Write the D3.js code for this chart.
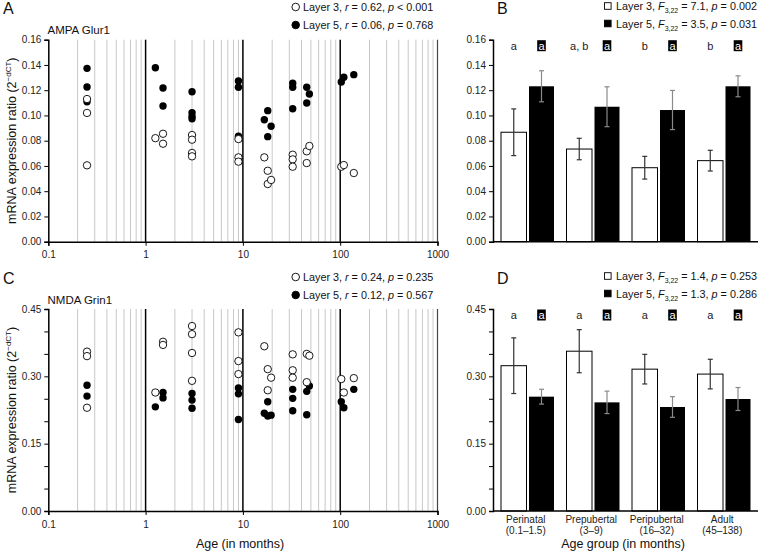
<!DOCTYPE html>
<html><head><meta charset="utf-8">
<script src="https://cdn.jsdelivr.net/npm/d3@7"></script>
<style>
body{margin:0;background:#fff;}
svg{font-family:"Liberation Sans",Arial,sans-serif;}
</style></head>
<body>
<svg id="c" width="760" height="558"></svg>
<script>
// ---------- DATA ----------
const ampaL3Age = [0.25,0.25,0.25,1.26,1.51,1.51,3,3,3,3,9,9,9,16.6,18,18,19.5,32.5,32.5,32.5,45.3,45.3,48.2,102.6,109,138];
const ampaL3Val = [0.113,0.102,0.0605,0.082,0.0855,0.0776,0.0845,0.0808,0.0703,0.0676,0.0813,0.0668,0.0634,0.0668,0.0562,0.0457,0.0489,0.0689,0.0652,0.0594,0.0716,0.0623,0.0758,0.0594,0.0607,0.0544];
const ampaL5Age = [0.25,0.25,0.25,1.26,1.51,1.51,3,3,3,3,9,9,9,16.6,18,18,19.5,32.5,32.5,32.5,45.3,45.3,48.2,102.6,109,138];
const ampaL5Val = [0.1373,0.1225,0.1109,0.1378,0.1217,0.1075,0.1188,0.1022,0.0993,0.0974,0.1273,0.1223,0.0835,0.0966,0.1038,0.0832,0.0914,0.1255,0.1223,0.1053,0.1223,0.1099,0.117,0.1265,0.1302,0.1323];
const nmdaL3Age = [0.25,0.25,0.25,1.26,1.51,1.51,3,3,3,3,9,9,9,16.6,18,18,19.5,32.5,32.5,32.5,45.3,45.3,48.2,102.6,109,138];
const nmdaL3Val = [0.355,0.345,0.230,0.264,0.377,0.370,0.412,0.394,0.352,0.290,0.398,0.334,0.305,0.367,0.316,0.269,0.297,0.349,0.3135,0.297,0.350,0.287,0.346,0.294,0.264,0.296];
const nmdaL5Age = [0.25,0.25,1.26,1.51,1.51,3,3,3,9,9,9,16.6,18,18,19.5,32.5,32.5,32.5,45.3,45.3,48.2,102.6,109,138];
const nmdaL5Val = [0.280,0.256,0.232,0.264,0.252,0.262,0.247,0.229,0.274,0.261,0.204,0.2176,0.2435,0.2116,0.2135,0.271,0.251,0.2234,0.2666,0.2145,0.2785,0.2435,0.230,0.271];

const groups = ["Perinatal","Prepubertal","Peripubertal","Adult"];
const groupRanges = ["(0.1–1.5)","(3–9)","(16–32)","(45–138)"];
const ampaBarL3 = [0.0867,0.0734,0.0586,0.0642];
const ampaErrL3 = [0.0185,0.0085,0.009,0.0082];
const ampaBarL5 = [0.1231,0.1069,0.1043,0.1231];
const ampaErrL5 = [0.0123,0.0158,0.0155,0.0083];
const nmdaBarL3 = [0.3237,0.356,0.316,0.305];
const nmdaErrL3 = [0.062,0.048,0.033,0.033];
const nmdaBarL5 = [0.2547,0.242,0.2317,0.2495];
const nmdaErrL5 = [0.0165,0.025,0.023,0.0256];
const ampaLetL3 = ["a","a, b","b","b"];
const ampaLetL5 = ["a","a","a","a"];
const nmdaLetL3 = ["a","a","a","a"];
const nmdaLetL5 = ["a","a","a","a"];

const ampaTicks = [0,0.02,0.04,0.06,0.08,0.10,0.12,0.14,0.16];
const nmdaTicks = [0,0.05,0.10,0.15,0.20,0.25,0.30,0.35,0.40,0.45];
const nmdaTickLabels = [0,0.15,0.30,0.45];
const ageTicks = [0.1,1,10,100,1000];

// ---------- DRAW ----------
const svg = d3.select("#c");
const x = d3.scaleLog().domain([0.1,1000]).range([48.3,437.5]);
const yA = d3.scaleLinear().domain([0,0.16]).range([241.7,39.7]);
const yC = d3.scaleLinear().domain([0,0.45]).range([511,309]);
const xb = d3.scaleBand().domain(groups).range([493,755]).paddingInner(0).paddingOuter(0);

function yTitle(cy){
  const t = svg.append("text").attr("transform",`translate(16,${cy}) rotate(-90)`)
    .attr("text-anchor","middle").attr("font-size",12.5).attr("fill","#111");
  t.append("tspan").text("mRNA expression ratio (2");
  t.append("tspan").attr("font-size",8).attr("dy",-5).text("−dCT");
  t.append("tspan").attr("dy",5).text(")");
}

function scatter(y, ticks, tickLabels, fmt, l3a, l3v, l5a, l5v, title, legend, panel, py){
  const g = svg.append("g");
  const minors = [];
  for (let d=0.1; d<1000; d*=10) for (let k=2;k<=9;k++) minors.push(d*k);
  g.selectAll(".mg").data(minors).join("line")
    .attr("x1",d=>x(d)).attr("x2",d=>x(d)).attr("y1",y.range()[0]).attr("y2",y.range()[1])
    .attr("stroke","#c8c8c8").attr("stroke-width",1);
  g.selectAll(".dg").data([1,10,100]).join("line")
    .attr("x1",d=>x(d)).attr("x2",d=>x(d)).attr("y1",y.range()[0]).attr("y2",y.range()[1])
    .attr("stroke","#000").attr("stroke-width",1.5);
  g.append("line").attr("x1",x(1000)).attr("x2",x(1000)).attr("y1",y.range()[0]).attr("y2",y.range()[1])
    .attr("stroke","#444").attr("stroke-width",1.2);
  const ya = d3.axisLeft(y).tickValues(ticks).tickSize(4)
    .tickFormat(d=> tickLabels.some(v=>Math.abs(v-d)<1e-9) ? fmt(d) : "");
  const yg = g.append("g").attr("transform",`translate(${x(0.1)},0)`).call(ya);
  yg.select(".domain").attr("stroke","#000").attr("stroke-width",1.5);
  yg.selectAll("text").attr("font-size",10).attr("fill","#222").attr("font-family","Liberation Sans, Arial");
  const xa = d3.axisBottom(x).tickValues(ageTicks).tickSize(4).tickFormat(d=>String(d));
  const xg = g.append("g").attr("transform",`translate(0,${y.range()[0]})`).call(xa);
  xg.select(".domain").attr("stroke","#000").attr("stroke-width",1.5);
  xg.selectAll("text").attr("font-size",10).attr("fill","#222").attr("dy","0.95em").attr("font-family","Liberation Sans, Arial");
  g.selectAll(".p5").data(l5a.map((a,i)=>[a,l5v[i]])).join("circle")
    .attr("cx",d=>x(d[0])).attr("cy",d=>y(d[1])).attr("r",3.7).attr("fill","#000");
  g.selectAll(".p3").data(l3a.map((a,i)=>[a,l3v[i]])).join("circle")
    .attr("cx",d=>x(d[0])).attr("cy",d=>y(d[1])).attr("r",3.7).attr("fill","#fff").attr("stroke","#000").attr("stroke-width",0.9);
  svg.append("text").attr("x",47.5).attr("y",y.range()[1]-5.5).attr("font-size",11.5).attr("fill","#111").text(title);
  svg.append("text").attr("x",3).attr("y",py+14).attr("font-size",16).attr("fill","#111").text(panel);
  legend.forEach((L,i)=>{
    const cy = py+7+i*18;
    svg.append("circle").attr("cx",295.7).attr("cy",cy).attr("r",3.8)
      .attr("fill",i===0?"#fff":"#000").attr("stroke","#000").attr("stroke-width",0.9);
    const t = svg.append("text").attr("x",303).attr("y",cy+4).attr("font-size",10.8).attr("fill","#111");
    t.append("tspan").text(`Layer ${L[0]}, `);
    t.append("tspan").attr("font-style","italic").text("r");
    t.append("tspan").text(` = ${L[1]}, `);
    t.append("tspan").attr("font-style","italic").text("p");
    t.append("tspan").text(` ${L[2]}`);
  });
}

function bars(y, ticks, tickLabels, fmt, m3, e3, m5, e5, let3, let5, legend, panel, py, withLabels){
  const g = svg.append("g");
  const base = y.range()[0];
  const ya = d3.axisLeft(y).tickValues(ticks).tickSize(4)
    .tickFormat(d=> tickLabels.some(v=>Math.abs(v-d)<1e-9) ? fmt(d) : "");
  const yg = g.append("g").attr("transform",`translate(${xb.range()[0]},0)`).call(ya);
  yg.select(".domain").attr("stroke","#000").attr("stroke-width",1.5);
  yg.selectAll("text").attr("font-size",10).attr("fill","#222").attr("font-family","Liberation Sans, Arial");
  g.selectAll(".b3").data(groups).join("rect")
    .attr("x",d=>xb(d)+8).attr("width",25.5)
    .attr("y",(d,i)=>y(m3[i])).attr("height",(d,i)=>base-y(m3[i]))
    .attr("fill","#fff").attr("stroke","#000").attr("stroke-width",1);
  g.selectAll(".b5").data(groups).join("rect")
    .attr("x",d=>xb(d)+36).attr("width",25)
    .attr("y",(d,i)=>y(m5[i])).attr("height",(d,i)=>base-y(m5[i]))
    .attr("fill","#000");
  function err(off, m, e, col){
    groups.forEach((d,i)=>{
      const cx = xb(d)+off;
      g.append("line").attr("x1",cx).attr("x2",cx).attr("y1",y(m[i]+e[i])).attr("y2",y(m[i]-e[i])).attr("stroke",col).attr("stroke-width",1.2);
      [m[i]+e[i], m[i]-e[i]].forEach(v=>{
        g.append("line").attr("x1",cx-2.5).attr("x2",cx+2.5).attr("y1",y(v)).attr("y2",y(v)).attr("stroke",col).attr("stroke-width",1.2);
      });
    });
  }
  err(8+12.75, m3, e3, "#333");
  err(36+12.5, m5, e5, "#8a8a8a");
  g.append("line").attr("x1",xb.range()[0]).attr("x2",758).attr("y1",base).attr("y2",base).attr("stroke","#000").attr("stroke-width",1.5);
  const ly = y.range()[1]+6;
  groups.forEach((d,i)=>{
    g.append("text").attr("x",xb(d)+20.75).attr("y",ly+4).attr("text-anchor","middle")
      .attr("font-size",11).attr("fill","#222").text(let3[i]);
    g.append("rect").attr("x",xb(d)+48.5-4.3).attr("y",ly-5.5).attr("width",8.6).attr("height",11).attr("fill","#000");
    g.append("text").attr("x",xb(d)+48.5).attr("y",ly+4).attr("text-anchor","middle")
      .attr("font-size",11).attr("fill","#fff").text(let5[i]);
  });
  if (withLabels){
    groups.forEach((d,i)=>{
      g.append("text").attr("x",xb(d)+xb.bandwidth()/2).attr("y",base+12).attr("text-anchor","middle")
        .attr("font-size",10).attr("fill","#222").text(d);
      g.append("text").attr("x",xb(d)+xb.bandwidth()/2).attr("y",base+23).attr("text-anchor","middle")
        .attr("font-size",10).attr("fill","#222").text(groupRanges[i]);
    });
    svg.append("text").attr("x",623).attr("y",base+37).attr("text-anchor","middle")
      .attr("font-size",12.5).attr("fill","#111").text("Age group (in months)");
  }
  svg.append("text").attr("x",497).attr("y",py+14).attr("font-size",16).attr("fill","#111").text(panel);
  legend.forEach((L,i)=>{
    const cy = py+6+i*17.5;
    svg.append("rect").attr("x",604.5).attr("y",cy-3.3).attr("width",6.6).attr("height",6.6)
      .attr("fill",i===0?"#fff":"#000").attr("stroke","#000").attr("stroke-width",0.9);
    const t = svg.append("text").attr("x",616).attr("y",cy+4).attr("font-size",10.8).attr("fill","#111");
    t.append("tspan").text(`Layer ${L[0]}, `);
    t.append("tspan").attr("font-style","italic").text("F");
    t.append("tspan").attr("font-size",7).attr("dy",3).text("3,22");
    t.append("tspan").attr("dy",-3).text(` = ${L[1]}, `);
    t.append("tspan").attr("font-style","italic").text("p");
    t.append("tspan").text(` = ${L[2]}`);
  });
}

const f2 = d3.format(".2f");
scatter(yA, ampaTicks, ampaTicks, f2, ampaL3Age, ampaL3Val, ampaL5Age, ampaL5Val, "AMPA Glur1",
  [["3","0.62","< 0.001"],["5","0.06","= 0.768"]], "A", 0);
scatter(yC, nmdaTicks, nmdaTickLabels, f2, nmdaL3Age, nmdaL3Val, nmdaL5Age, nmdaL5Val, "NMDA Grin1",
  [["3","0.24","= 0.235"],["5","0.12","= 0.567"]], "C", 270);
yTitle(140.7);
yTitle(410);
svg.append("text").attr("x",240).attr("y",548).attr("text-anchor","middle").attr("font-size",12.5).attr("fill","#111").text("Age (in months)");

bars(yA, ampaTicks, ampaTicks, f2, ampaBarL3, ampaErrL3, ampaBarL5, ampaErrL5, ampaLetL3, ampaLetL5,
  [["3","7.1","0.002"],["5","3.5","0.031"]], "B", 0, false);
bars(yC, nmdaTicks, nmdaTickLabels, f2, nmdaBarL3, nmdaErrL3, nmdaBarL5, nmdaErrL5, nmdaLetL3, nmdaLetL5,
  [["3","1.4","0.253"],["5","1.3","0.286"]], "D", 270, true);
</script>
</body></html>
